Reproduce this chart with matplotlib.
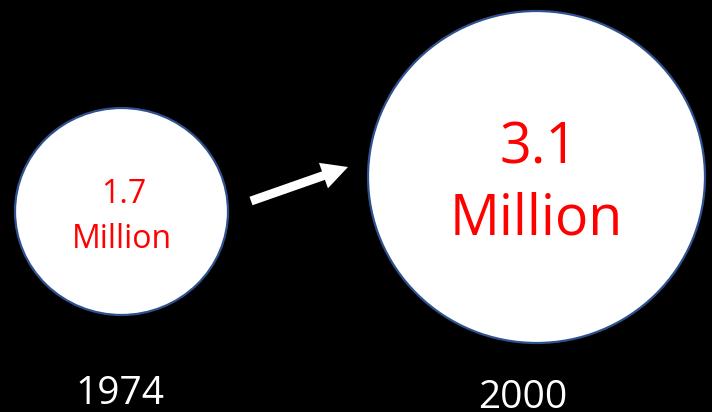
import matplotlib.pyplot as plt
from matplotlib.patches import Ellipse, FancyArrow

# data
years = ['1974', '2000']
values = [1.7, 3.1]
unit = 'Million'

# layout (pixel coordinates, y down)
centers = [(121.5, 211.5), (536.5, 177)]
sizes = [(213, 207), (337, 332)]
num_base = [203, 163]
unit_base = [248, 234]
font_sz = [23, 40]
year_x = [120, 523]
year_base = [404, 408]

plt.rcParams['font.family'] = ['Open Sans', 'DejaVu Sans']

fig = plt.figure(figsize=(7.12, 4.12), dpi=100, facecolor='black')
ax = fig.add_axes([0, 0, 1, 1])
ax.set_facecolor('black')
ax.set_xlim(0, 712)
ax.set_ylim(412, 0)
ax.set_aspect('equal')
ax.axis('off')

for i in range(len(years)):
    (cx, cy), (w, h) = centers[i], sizes[i]
    ax.add_patch(Ellipse((cx, cy), w, h, facecolor='white',
                         edgecolor='#2F528F', linewidth=1.6))
    ax.text(cx + 2, num_base[i], f'{values[i]}', color='#FF0000',
            fontsize=font_sz[i], ha='center', va='baseline')
    ax.text(cx, unit_base[i], unit, color='#FF0000',
            fontsize=font_sz[i], ha='center', va='baseline')
    ax.text(year_x[i], year_base[i], years[i], color='white',
            fontsize=28, ha='center', va='baseline')

# arrow between the circles
ax.add_patch(FancyArrow(251, 201, 97, -34, width=9, head_width=27,
                        head_length=26, length_includes_head=True,
                        color='white', linewidth=0))

fig.savefig('out.png', dpi=100, facecolor='black')
